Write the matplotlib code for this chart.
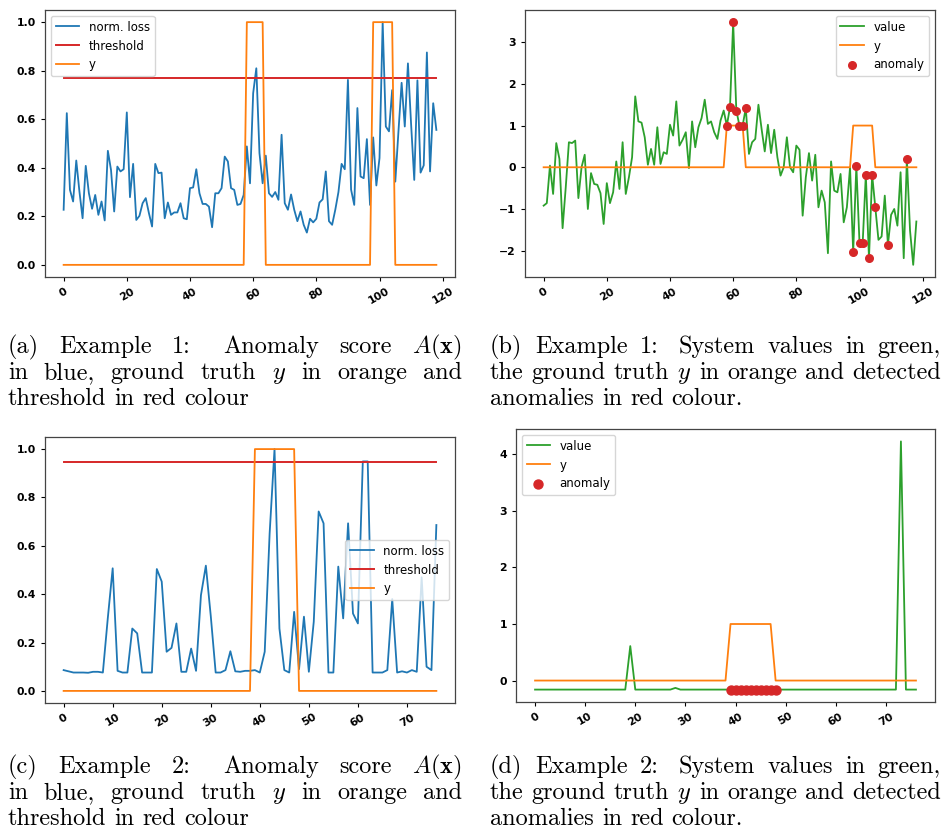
import numpy as np
import matplotlib
matplotlib.use("Agg")
import matplotlib.pyplot as plt

plt.rcParams["mathtext.fontset"] = "cm"

BLUE = "#1f77b4"
ORANGE = "#ff7f0e"
GREEN = "#2ca02c"
RED = "#d62728"

# ---------------- data, example 1 ----------------
loss_1 = [
    0.227, 0.625, 0.309, 0.261, 0.430, 0.302, 0.192, 0.408, 0.295, 0.231,
    0.288, 0.206, 0.261, 0.183, 0.470, 0.391, 0.220, 0.405, 0.385, 0.394,
    0.628, 0.279, 0.416, 0.185, 0.202, 0.254, 0.275, 0.213, 0.158, 0.416,
    0.378, 0.380, 0.192, 0.257, 0.206, 0.216, 0.216, 0.254, 0.192, 0.188,
    0.316, 0.319, 0.394, 0.295, 0.251, 0.251, 0.240, 0.155, 0.295, 0.295,
    0.316, 0.446, 0.426, 0.316, 0.309, 0.247, 0.251, 0.288, 0.488, 0.336,
    0.707, 0.810, 0.460, 0.336, 0.450, 0.295, 0.280, 0.300, 0.268, 0.536,
    0.254, 0.227, 0.290, 0.227, 0.180, 0.220, 0.165, 0.133, 0.190, 0.175,
    0.190, 0.257, 0.270, 0.385, 0.180, 0.165, 0.227, 0.300, 0.416, 0.394,
    0.762, 0.310, 0.247, 0.646, 0.364, 0.357, 0.518, 0.247, 0.525, 0.327,
    0.440, 1.000, 0.570, 0.550, 0.720, 0.343, 0.550, 0.750, 0.570, 0.830,
    0.580, 0.350, 0.760, 0.380, 0.410, 0.875, 0.385, 0.666, 0.556,
]
threshold_1 = 0.771

truth_1 = [
    0, 0, 0, 0, 0, 0, 0, 0, 0, 0, 0, 0, 0, 0, 0, 0, 0, 0, 0, 0,
    0, 0, 0, 0, 0, 0, 0, 0, 0, 0, 0, 0, 0, 0, 0, 0, 0, 0, 0, 0,
    0, 0, 0, 0, 0, 0, 0, 0, 0, 0, 0, 0, 0, 0, 0, 0, 0, 0, 1, 1,
    1, 1, 1, 1, 0, 0, 0, 0, 0, 0, 0, 0, 0, 0, 0, 0, 0, 0, 0, 0,
    0, 0, 0, 0, 0, 0, 0, 0, 0, 0, 0, 0, 0, 0, 0, 0, 0, 0, 1, 1,
    1, 1, 1, 1, 1, 0, 0, 0, 0, 0, 0, 0, 0, 0, 0, 0, 0, 0, 0,
]

value_1 = [
    -0.92, -0.86, 0.04, -0.64, 0.58, 0.20, -1.46, -0.48, 0.60, 0.58,
    0.64, -0.74, 0.00, 0.30, -1.00, -0.14, -0.40, -0.42, -0.62, -1.36,
    -0.38, -0.86, -0.60, 0.14, -0.52, 0.60, -0.64, -0.24, 0.24, 1.70,
    1.10, 1.07, 0.72, 0.06, 0.44, 0.06, 0.96, 0.08, 0.36, 0.32,
    1.02, 0.76, 1.58, 0.52, 0.66, 0.84, -0.02, 1.10, 0.48, 0.96,
    1.18, 1.62, 1.04, 1.10, 0.84, 0.68, 1.12, 1.36, 1.00, 1.44,
    3.48, 1.36, 1.00, 1.00, 1.42, 0.32, 0.60, 0.68, 1.50, 0.92,
    0.38, 1.02, 0.34, 0.90, 0.24, -0.20, 0.00, 0.72, 0.00, -0.12,
    0.52, 0.42, -1.16, -0.24, 0.34, -0.32, 0.30, -0.96, -0.56, -0.84,
    -2.06, 0.14, -0.56, -0.60, -0.16, -1.32, -0.96, 0.00, -2.04, 0.04,
    -1.82, -1.82, -0.18, -2.18, -0.18, -0.96, -1.74, -1.66, -0.68, -1.86,
    -1.14, -1.00, -1.40, -0.12, -2.18, 0.20, -1.52, -2.34, -1.30,
]
anomaly_idx_1 = [58, 59, 60, 61, 62, 63, 64, 98, 99, 100, 101, 102, 103,
                 104, 105, 109, 115]

# ---------------- data, example 2 ----------------
loss_2 = [
    0.086, 0.081, 0.076, 0.076, 0.076, 0.075, 0.079, 0.079, 0.076, 0.300,
    0.507, 0.083, 0.076, 0.076, 0.258, 0.238, 0.076, 0.076, 0.076, 0.504,
    0.452, 0.162, 0.178, 0.279, 0.079, 0.079, 0.175, 0.083, 0.396, 0.518,
    0.310, 0.076, 0.076, 0.086, 0.164, 0.081, 0.079, 0.083, 0.083, 0.086,
    0.076, 0.162, 0.650, 1.000, 0.258, 0.086, 0.076, 0.327, 0.090, 0.307,
    0.079, 0.286, 0.742, 0.693, 0.076, 0.076, 0.514, 0.300, 0.693, 0.320,
    0.279, 0.949, 0.949, 0.076, 0.076, 0.076, 0.086, 0.380, 0.076, 0.081,
    0.076, 0.086, 0.079, 0.470, 0.100, 0.086, 0.686,
]
threshold_2 = 0.946

truth_2 = [
    0, 0, 0, 0, 0, 0, 0, 0, 0, 0, 0, 0, 0, 0, 0, 0, 0, 0, 0, 0,
    0, 0, 0, 0, 0, 0, 0, 0, 0, 0, 0, 0, 0, 0, 0, 0, 0, 0, 0, 1,
    1, 1, 1, 1, 1, 1, 1, 1, 0, 0, 0, 0, 0, 0, 0, 0, 0, 0, 0, 0,
    0, 0, 0, 0, 0, 0, 0, 0, 0, 0, 0, 0, 0, 0, 0, 0, 0,
]

value_2 = [
    -0.16, -0.16, -0.16, -0.16, -0.16, -0.16, -0.16, -0.16, -0.16, -0.16,
    -0.16, -0.16, -0.16, -0.16, -0.16, -0.16, -0.16, -0.16, -0.16, 0.61,
    -0.16, -0.16, -0.16, -0.16, -0.16, -0.16, -0.16, -0.16, -0.13, -0.16,
    -0.16, -0.16, -0.16, -0.16, -0.16, -0.16, -0.16, -0.16, -0.16, -0.16,
    -0.16, -0.16, -0.16, -0.16, -0.16, -0.16, -0.16, -0.16, -0.16, -0.16,
    -0.16, -0.16, -0.16, -0.16, -0.16, -0.16, -0.16, -0.16, -0.16, -0.16,
    -0.16, -0.16, -0.16, -0.16, -0.16, -0.16, -0.16, -0.16, -0.16, -0.16,
    -0.16, -0.16, -0.16, 4.23, -0.16, -0.16, -0.16,
]
anomaly_idx_2 = [39, 40, 41, 42, 43, 44, 45, 46, 47, 48]

xticks_1 = [0, 20, 40, 60, 80, 100, 120]
xticks_2 = [0, 10, 20, 30, 40, 50, 60, 70]

captions = {
    "a": [("(a) Example 1: Anomaly score $A(\\mathbf{x})$", True),
          ("in blue, ground truth $y$ in orange and", True),
          ("threshold in red colour", False)],
    "b": [("(b) Example 1: System values in green,", True),
          ("the ground truth $y$ in orange and detected", True),
          ("anomalies in red colour.", False)],
    "c": [("(c) Example 2: Anomaly score $A(\\mathbf{x})$", True),
          ("in blue, ground truth $y$ in orange and", True),
          ("threshold in red colour", False)],
    "d": [("(d) Example 2: System values in green,", True),
          ("the ground truth $y$ in orange and detected", True),
          ("anomalies in red colour.", False)],
}

W, H = 943, 834
fig = plt.figure(figsize=(W / 100, H / 100), dpi=100)


def add_px_axes(left, top, right, bottom):
    return fig.add_axes([left / W, 1 - bottom / H, (right - left) / W, (bottom - top) / H])


def style_axes(ax, xticks):
    ax.set_xticks(xticks)
    ax.tick_params(axis="x", rotation=30)
    ax.tick_params(labelsize=7.8, width=0.8, length=3)
    for lab in ax.get_xticklabels() + ax.get_yticklabels():
        lab.set_fontweight("bold")
    for sp in ax.spines.values():
        sp.set_color("#444444")
        sp.set_linewidth(0.9)


def score_panel(ax, loss, threshold, truth, xticks, legend_loc):
    idx = np.arange(len(loss))
    ax.plot(idx, loss, color=BLUE, lw=1.3, label="norm. loss")
    ax.plot(idx, np.full(len(idx), threshold), color=RED, lw=1.4, label="threshold")
    ax.plot(idx, truth, color=ORANGE, lw=1.3, label="y")
    ax.legend(loc=legend_loc, fontsize=8.5)
    style_axes(ax, xticks)


def value_panel(ax, values, truth, anomaly_idx, xticks, legend_loc, dot_size):
    idx = np.arange(len(values))
    vals = np.asarray(values)
    ax.plot(idx, vals, color=GREEN, lw=1.3, label="value")
    ax.plot(idx, truth, color=ORANGE, lw=1.3, label="y")
    ax.scatter(anomaly_idx, vals[anomaly_idx], color=RED, s=dot_size, zorder=3,
               label="anomaly")
    ax.legend(loc=legend_loc, fontsize=8.5)
    style_axes(ax, xticks)


ax_a = add_px_axes(45, 10, 455, 277)
score_panel(ax_a, loss_1, threshold_1, truth_1, xticks_1, "upper left")

ax_b = add_px_axes(525, 10, 935, 277)
value_panel(ax_b, value_1, truth_1, anomaly_idx_1, xticks_1, "upper right", 30)

ax_c = add_px_axes(45, 437, 455, 703)
score_panel(ax_c, loss_2, threshold_2, truth_2, xticks_2, "center right")

ax_d = add_px_axes(516, 429, 935, 702)
value_panel(ax_d, value_2, truth_2, anomaly_idx_2, xticks_2, "upper left", 42)


# captions: justified lines like the LaTeX subcaptions
renderer = fig.canvas.get_renderer()
CAP_SIZE = 17.5


def put_caption(lines, x0, x1, base0, step):
    for k, (line, justify) in enumerate(lines):
        yb = 1 - (base0 + k * step) / H
        words = line.split()
        texts = [fig.text(0, yb, w, fontsize=CAP_SIZE, family="cmr10",
                          va="baseline", ha="left") for w in words]
        widths = [t.get_window_extent(renderer).width for t in texts]
        weights = [1.6 if w.endswith(":") else 1.0 for w in words[:-1]]
        if justify:
            gap = (x1 - x0 - sum(widths)) / sum(weights)
        else:
            gap = CAP_SIZE * 0.333 * 100 / 72
        x = x0
        for i, t in enumerate(texts):
            t.set_x(x / W)
            if i < len(weights):
                x += widths[i] + gap * weights[i]


put_caption(captions["a"], 8, 462, 353, 26)
put_caption(captions["b"], 490, 941, 353, 26)
put_caption(captions["c"], 8, 462, 773, 26)
put_caption(captions["d"], 490, 941, 773, 26)

fig.savefig("out.png", dpi=100)
